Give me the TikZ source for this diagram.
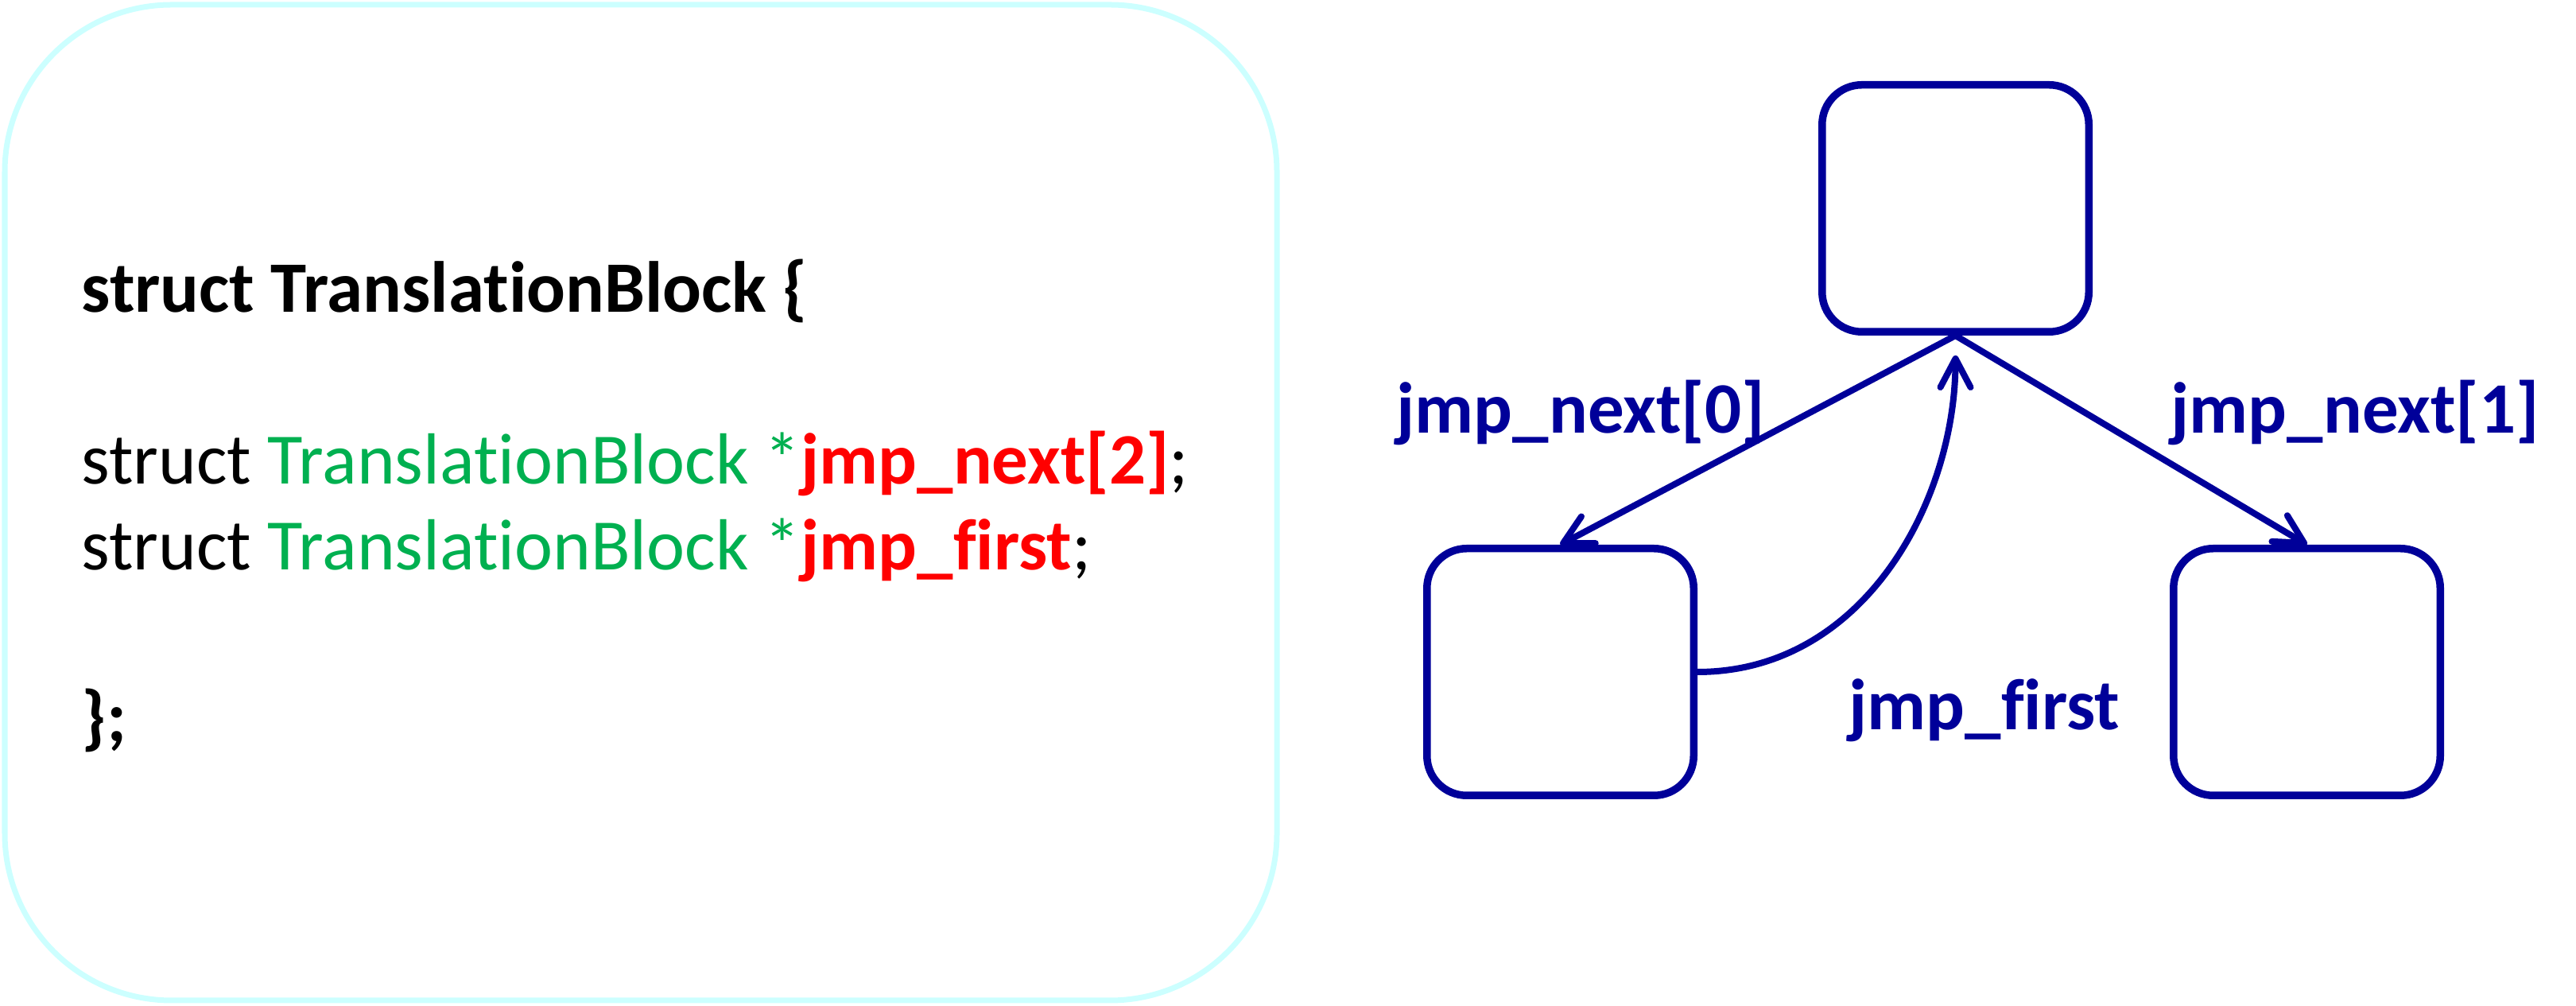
\documentclass[tikz,border=0pt]{standalone}
\usepackage{fontspec}
\setmainfont{Carlito}[Ligatures=CommonOff]
\usepackage{xcolor}
\usetikzlibrary{arrows.meta}
\definecolor{tbblue}{RGB}{0,0,153}
\definecolor{codegreen}{RGB}{0,176,80}
\definecolor{panelcyan}{RGB}{204,255,255}
\tikzset{
    codeline/.style={anchor=base west, inner sep=0pt, font=\fontsize{25.9pt}{31pt}\selectfont},
    tbbox/.style={draw=tbblue, line width=0.095cm, rounded corners=0.5cm, minimum width=3.355cm, minimum height=3.105cm},
    jmplabel/.style={anchor=base west, inner sep=0pt, text=tbblue, font=\fontsize{25.9pt}{31pt}\selectfont\bfseries},
    jmparrow/.style={draw=tbblue, line width=0.08cm, -{Straight Barb[length=0.36cm,width=0.38cm,round]}}
}
\begin{document}
\begin{tikzpicture}
            \useasboundingbox (0,0) rectangle (32.40,12.65);
            \draw[panelcyan,line width=0.07cm,rounded corners=2.1cm] (0.06,0.07) rectangle (16.06,12.59);

            \node[codeline] (head) at (1.02,8.72) {\textbf{struct TranslationBlock \{}};
            \node[codeline] (next) at (1.02,6.56) {struct \textcolor{codegreen}{TranslationBlock *}\textcolor{red}{\textbf{jmp\_next[2]}};};
            \node[codeline] (first) at (1.02,5.48) {struct \textcolor{codegreen}{TranslationBlock *}\textcolor{red}{\textbf{jmp\_first}};};
            \node[codeline] (tail) at (1.02,3.32) {\textbf{\};}};

            \node[tbbox] (tb) at (24.595,10.03) {};
            \node[tbbox] (tb0) at (19.625,4.20) {};
            \node[tbbox] (tb1) at (29.015,4.20) {};

            \draw[jmparrow] (tb.south) -- (tb0.north);
            \draw[jmparrow] (tb.south) -- (tb1.north);
            \draw[jmparrow,shorten >=0.25cm] (tb0.east) to[out=0,in=-90] (tb.south);

            \node[jmplabel] (lbl0) at (17.56,7.20) {jmp\_next[0]};
            \node[jmplabel] (lbl1) at (27.30,7.20) {jmp\_next[1]};
            \node[jmplabel] (lblf) at (23.25,3.47) {jmp\_first};
\end{tikzpicture}
\end{document}
